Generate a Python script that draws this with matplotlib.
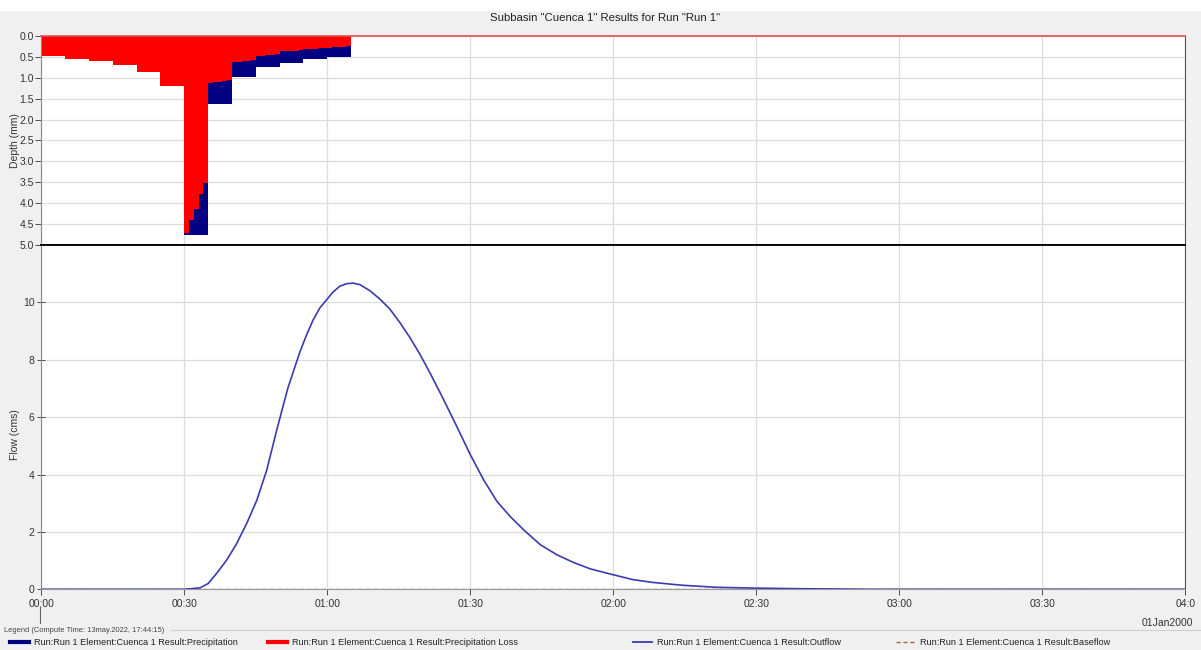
import numpy as np
import matplotlib
matplotlib.use("Agg")
import matplotlib.pyplot as plt
from matplotlib.lines import Line2D

plt.rcParams['font.family'] = ['Liberation Sans', 'DejaVu Sans']

# precipitation depth per 5 minute block (mm), 00:00 - 01:05
block_start_min = [0, 5, 10, 15, 20, 25, 30, 35, 40, 45, 50, 55, 60]
precip_mm = [0.48, 0.54, 0.595, 0.69, 0.86, 1.2, 4.76, 1.63, 0.99, 0.75, 0.635, 0.56, 0.50]

# precipitation loss per minute (mm), 00:00 - 01:05
loss_mm = [0.48, 0.48, 0.48, 0.48, 0.48,
           0.54, 0.54, 0.54, 0.54, 0.54,
           0.595, 0.595, 0.595, 0.595, 0.595,
           0.69, 0.69, 0.69, 0.69, 0.69,
           0.86, 0.86, 0.86, 0.86, 0.86,
           1.2, 1.2, 1.2, 1.2, 1.2,
           4.72, 4.40, 4.15, 3.77, 3.51,
           1.13, 1.11, 1.09, 1.07, 1.05,
           0.63, 0.62, 0.60, 0.59, 0.58,
           0.48, 0.47, 0.46, 0.45, 0.44,
           0.37, 0.36, 0.36, 0.35, 0.34,
           0.32, 0.31, 0.30, 0.29, 0.28,
           0.28, 0.27, 0.26, 0.26, 0.25]

# outflow hydrograph (minutes, cms)
outflow_t = [0, 30, 33.3, 35, 36.8, 38.9, 41, 43.1, 45.2, 47.3, 49.4, 51.7, 52.8,
             54.2, 55.6, 57, 58.4, 60, 61.2, 62.6, 64, 65.4, 66.8, 68.9, 71, 73.1,
             75.2, 77.3, 79.4, 81.5, 83.7, 86.5, 90, 92.8, 95.6, 98.4, 101.2, 104.7,
             108.2, 111.7, 115.2, 118.7, 124, 128.2, 134.5, 141.5, 150, 159, 174, 240]
outflow_q = [0, 0, 0.05, 0.2, 0.56, 1.02, 1.6, 2.3, 3.1, 4.16, 5.56, 7.0, 7.55,
             8.25, 8.85, 9.38, 9.8, 10.12, 10.36, 10.56, 10.65, 10.67, 10.62, 10.41, 10.12, 9.77,
             9.3, 8.78, 8.2, 7.55, 6.84, 5.9, 4.69, 3.81, 3.06, 2.53, 2.07, 1.55,
             1.2, 0.93, 0.71, 0.56, 0.34, 0.24, 0.14, 0.07, 0.04, 0.02, 0.0, 0.0]

baseflow_t = [0, 240]
baseflow_q = [0, 0]

xtick_min = [0, 30, 60, 90, 120, 150, 180, 210, 240]
xtick_lbl = ["00:00", "00:30", "01:00", "01:30", "02:00", "02:30", "03:00", "03:30", "04:0"]

navy = '#000080'
red = '#ff0000'
outflow_c = '#3b3bb0'
base_c = '#b06040'
grid_c = '#dcdcdc'
txt_c = '#333333'

fig = plt.figure(figsize=(12.01, 6.5), dpi=100, facecolor='#f0f0f0')
ax1 = fig.add_axes([0.0344, 0.6231, 0.9526, 0.3215])
ax2 = fig.add_axes([0.0344, 0.0934, 0.9526, 0.5297])

# white strip at very top
fig.patches.append(plt.Rectangle((0, 0.985), 1, 0.015, transform=fig.transFigure,
                                 color='white', zorder=-1))

# --- hyetograph ---
ax1.bar(block_start_min, precip_mm, width=5, align='edge', color=navy, linewidth=0)
edges = np.arange(len(loss_mm) + 1)
ax1.fill_between(edges, loss_mm + [loss_mm[-1]], step='post', color=red, linewidth=0)
ax1.set_xlim(0, 240)
ax1.set_ylim(5, 0)
ax1.set_yticks(np.arange(0, 5.01, 0.5))
ax1.set_yticklabels([f"{v:.1f}" for v in np.arange(0, 5.01, 0.5)])
ax1.set_xticks(xtick_min)
ax1.tick_params(axis='x', length=0, labelbottom=False)
ax1.tick_params(axis='y', labelsize=7.5, colors=txt_c, length=4, width=0.6, pad=1.5)
ax1.grid(True, color=grid_c, linewidth=0.9)
ax1.set_axisbelow(True)
ax1.set_ylabel("Depth (mm)", fontsize=7.5, color=txt_c)
ax1.spines['top'].set_color('#e05050')
ax1.spines['top'].set_linewidth(1.2)
ax1.spines['bottom'].set_color('black')
ax1.spines['bottom'].set_linewidth(1.3)
ax1.spines['left'].set_color('#888888')
ax1.spines['right'].set_color('#555555')

# --- hydrograph ---
ax2.plot(baseflow_t, baseflow_q, color=base_c, linestyle='--', linewidth=1.0, zorder=3)
ax2.plot(outflow_t, outflow_q, color=outflow_c, linewidth=1.2, zorder=4,
         solid_joinstyle='round', solid_capstyle='round')
ax2.set_xlim(0, 240)
ax2.set_ylim(0, 12)
ax2.set_yticks([0, 2, 4, 6, 8, 10])
ax2.set_xticks(xtick_min)
ax2.set_xticklabels(xtick_lbl)
ax2.tick_params(axis='x', labelsize=7.5, colors=txt_c, direction='out', length=4, width=0.6, pad=3)
ax2.tick_params(axis='y', labelsize=7.5, colors=txt_c, direction='inout', length=6, width=0.6, pad=2)
ax2.grid(True, color=grid_c, linewidth=0.9)
ax2.set_axisbelow(True)
ax2.set_ylabel("Flow (cms)", fontsize=7.5, color=txt_c)
ax2.spines['top'].set_color('black')
ax2.spines['top'].set_linewidth(1.3)
ax2.spines['left'].set_color('#888888')
ax2.spines['right'].set_color('#555555')
ax2.spines['bottom'].set_color('#999999')
ax1.yaxis.set_label_coords(-0.019, 0.5)
ax2.yaxis.set_label_coords(-0.019, 0.45)

fig.text(0.504, 0.972, 'Subbasin "Cuenca 1" Results for Run "Run 1"', ha='center', va='center',
         fontsize=8.2, color='#222222')
fig.text(0.9935, 0.0415, "01Jan2000", ha='right', va='center', fontsize=7.5, color=txt_c)
fig.add_artist(Line2D([0.0336, 0.0336], [0.0415, 0.066], color='#666666', linewidth=0.8))

# --- legend panel ---
fig.text(0.003, 0.030, "Legend (Compute Time: 13may.2022, 17:44:15)", ha='left', va='center',
         fontsize=5.4, color='#444444')
fig.add_artist(Line2D([0.142, 1.0], [0.031, 0.031], color='#d0d0d0', linewidth=0.8))

legend_items = [
    ("Run:Run 1 Element:Cuenca 1 Result:Precipitation", navy, '-', 3.0, 0.008),
    ("Run:Run 1 Element:Cuenca 1 Result:Precipitation Loss", red, '-', 3.0, 0.223),
    ("Run:Run 1 Element:Cuenca 1 Result:Outflow", outflow_c, '-', 1.3, 0.527),
    ("Run:Run 1 Element:Cuenca 1 Result:Baseflow", base_c, '--', 1.0, 0.746),
]
for label, col, ls, lw, x0 in legend_items:
    fig.add_artist(Line2D([x0, x0 + 0.016], [0.012, 0.012], color=col, linestyle=ls,
                          linewidth=lw, dashes=(3, 2) if ls == '--' else (None, None)))
    fig.text(x0 + 0.020, 0.011, label, ha='left', va='center', fontsize=6.6, color='#222222')

fig.savefig("out.png", dpi=100, facecolor=fig.get_facecolor())
